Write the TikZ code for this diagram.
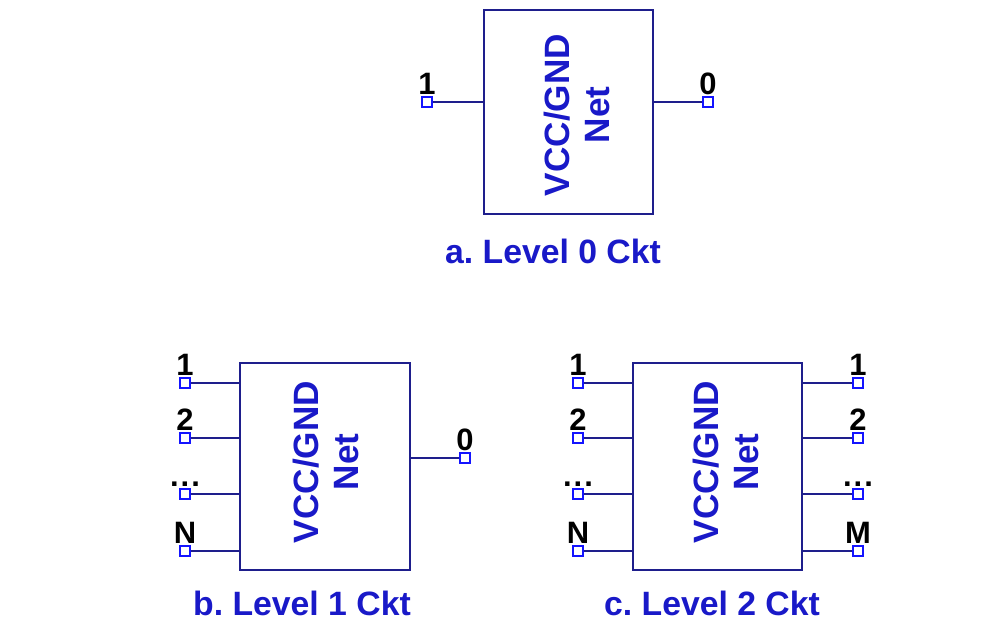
\documentclass[tikz,border=0pt]{standalone}
\usepackage{fontspec}
\setmainfont{Liberation Sans}
\usetikzlibrary{positioning,calc}
\frenchspacing
\definecolor{wire}{RGB}{30,30,140}
\definecolor{netblue}{RGB}{25,25,200}
\definecolor{pinblue}{RGB}{20,20,255}
\newcommand{\pindots}{.\kern1.5pt.\kern1.5pt.}
\tikzset{
    netbox/.style={
        rectangle,
        draw=wire,
        line width=1.9pt,
        fill=white,
        inner sep=0pt
    },
    netlabel/.style={
        rotate=90,
        align=center,
        text=netblue,
        font=\bfseries\fontsize{25}{29}\selectfont
    },
    pinsq/.style={
        rectangle,
        draw=pinblue,
        fill=white,
        line width=1.4pt,
        minimum size=6.5pt,
        inner sep=0pt
    },
    lead/.style={
        draw=wire,
        line width=1.3pt
    },
    heavylead/.style={
        lead,
        line width=1.9pt
    },
    pinlabel/.style={
        text=black,
        inner sep=0pt,
        font=\bfseries\fontsize{22}{26}\selectfont
    },
    caption/.style={
        anchor=base,
        text=netblue,
        font=\bfseries\fontsize{24}{28}\selectfont
    }
}

\begin{document}
\begin{tikzpicture}[x=0.025cm, y=-0.025cm]

\useasboundingbox (0,0) rectangle (1003,620);

% a. level 0
\node[netbox, minimum width=4.225cm, minimum height=5.1cm] (boxa) at (568.5,112) {};
\node[netlabel] (neta) at (577,115) {VCC/GND\\Net};
\node[pinsq] (pa1) at (427,102) {};
\node[pinsq] (pa0) at (708,102) {};
\draw[heavylead] (pa1) -- (pa1 -| boxa.west);
\draw[heavylead] (pa0) -- (pa0 -| boxa.east);
\node[pinlabel, above=1pt of pa1] (la1) {1};
\node[pinlabel, above=1pt of pa0] (la0) {0};
\node[caption] (capa) at (553,263) {a. Level 0 Ckt};

% b. level 1
\node[netbox, minimum width=4.25cm, minimum height=5.175cm] (boxb) at (325,466.5) {};
\node[netlabel] (netb) at (326,462) {VCC/GND\\Net};
\foreach \n/\y/\t in {1/383/1, 2/438/2, 3/494/\pindots, 4/551/N} {
    \node[pinsq] (pb\n) at (185,\y) {};
    \draw[lead] (pb\n) -- (pb\n -| boxb.west);
    \node[pinlabel, above=1pt of pb\n] (lb\n) {\t};
}
\node[pinsq] (pb0) at (465,458) {};
\draw[lead] (pb0) -- (pb0 -| boxb.east);
\node[pinlabel, above=1pt of pb0] (lb0) {0};
\node[caption] (capb) at (302,615) {b. Level 1 Ckt};

% c. level 2
\node[netbox, minimum width=4.225cm, minimum height=5.175cm] (boxc) at (717.5,466.5) {};
\node[netlabel] (netc) at (726,462) {VCC/GND\\Net};
\foreach \n/\y/\t/\u in {1/383/1/1, 2/438/2/2, 3/494/\pindots/\pindots, 4/551/N/M} {
    \node[pinsq] (pcl\n) at (578,\y) {};
    \node[pinsq] (pcr\n) at (858,\y) {};
    \draw[lead] (pcl\n) -- (pcl\n -| boxc.west);
    \draw[lead] (pcr\n) -- (pcr\n -| boxc.east);
    \node[pinlabel, above=1pt of pcl\n] (lcl\n) {\t};
    \node[pinlabel, above=1pt of pcr\n] (lcr\n) {\u};
}
\node[caption] (capc) at (712,615) {c. Level 2 Ckt};

\end{tikzpicture}
\end{document}
